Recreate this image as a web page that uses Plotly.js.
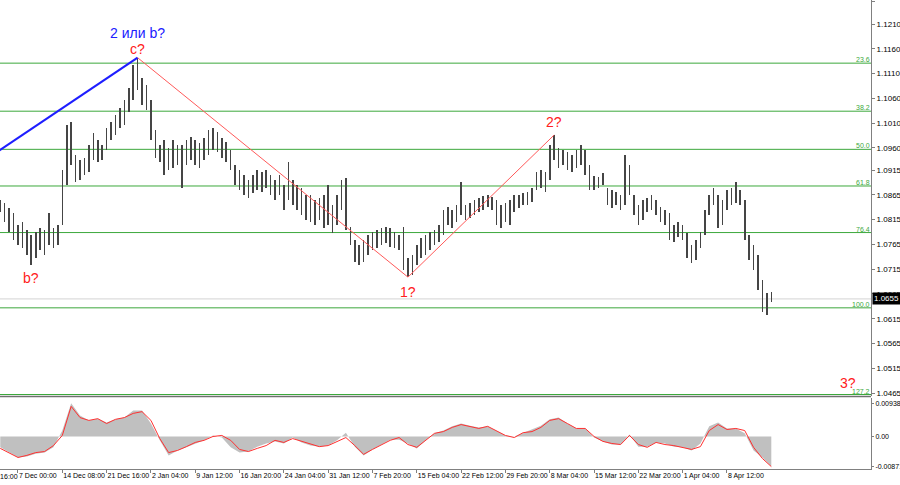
<!DOCTYPE html>
<html>
<head>
<meta charset="utf-8">
<script src="https://cdn.plot.ly/plotly-3.0.1.min.js"></script>
<style>
html,body{margin:0;padding:0;background:#fff;}
#chart{width:900px;height:485px;}
</style>
</head>
<body>
<div id="chart"></div>
<script>
// ---- Data (EURUSD-style H4 bars, each drawn bar ≈ 3 source bars) ----
const barHigh = [1.0855,1.0849,1.0839,1.0828,1.0804,1.0810,1.0794,1.0784,1.0790,1.0798,
1.0794,1.0828,1.0798,1.0804,1.0915,1.1006,1.1012,1.0946,1.0936,1.0940,
1.0966,1.0990,1.0976,1.0966,1.1000,1.1012,1.1027,1.1041,1.1057,1.1081,
1.1128,1.1142,1.1101,1.1087,1.1057,1.0996,1.0966,1.0976,1.0960,1.0976,
1.0966,1.0966,1.0976,1.0982,1.0976,1.0970,1.0980,1.0996,1.1000,1.0992,
1.0980,1.0972,1.0956,1.0926,1.0915,1.0905,1.0895,1.0905,1.0915,1.0911,
1.0915,1.0905,1.0895,1.0905,1.0885,1.0932,1.0895,1.0885,1.0879,1.0865,
1.0865,1.0855,1.0859,1.0865,1.0885,1.0845,1.0865,1.0895,1.0899,1.0800,
1.0774,1.0764,1.0774,1.0784,1.0790,1.0794,1.0798,1.0800,1.0798,1.0790,
1.0784,1.0800,1.0738,1.0744,1.0764,1.0778,1.0784,1.0790,1.0794,1.0804,
1.0835,1.0841,1.0835,1.0845,1.0891,1.0845,1.0849,1.0855,1.0859,1.0863,
1.0865,1.0861,1.0855,1.0845,1.0849,1.0855,1.0865,1.0865,1.0869,1.0871,
1.0879,1.0911,1.0915,1.0911,1.0966,1.0986,1.0960,1.0956,1.0952,1.0946,
1.0956,1.0966,1.0956,1.0926,1.0903,1.0901,1.0909,1.0879,1.0875,1.0871,
1.0865,1.0946,1.0926,1.0865,1.0845,1.0855,1.0859,1.0865,1.0855,1.0841,
1.0835,1.0829,1.0804,1.0811,1.0804,1.0788,1.0764,1.0774,1.0790,1.0835,
1.0865,1.0879,1.0865,1.0855,1.0875,1.0879,1.0891,1.0875,1.0855,1.0784,
1.0764,1.0744,1.0693,1.0667,1.0669];
const barLow = [1.0830,1.0810,1.0790,1.0774,1.0764,1.0758,1.0744,1.0724,1.0738,1.0754,
1.0744,1.0764,1.0758,1.0764,1.0804,1.0885,1.0925,1.0891,1.0895,1.0905,
1.0911,1.0936,1.0932,1.0936,1.0956,1.0976,1.0986,1.1000,1.1006,1.1033,
1.1057,1.1077,1.1047,1.1037,1.0976,1.0940,1.0932,1.0905,1.0915,1.0920,
1.0926,1.0879,1.0926,1.0936,1.0926,1.0920,1.0936,1.0946,1.0956,1.0952,
1.0940,1.0932,1.0915,1.0885,1.0875,1.0865,1.0859,1.0869,1.0875,1.0871,
1.0879,1.0865,1.0855,1.0865,1.0835,1.0855,1.0845,1.0835,1.0825,1.0815,
1.0811,1.0804,1.0815,1.0798,1.0804,1.0788,1.0804,1.0835,1.0794,1.0764,
1.0730,1.0724,1.0730,1.0744,1.0754,1.0758,1.0764,1.0768,1.0760,1.0758,
1.0754,1.0714,1.0699,1.0704,1.0724,1.0738,1.0744,1.0754,1.0764,1.0770,
1.0784,1.0804,1.0798,1.0811,1.0825,1.0815,1.0819,1.0825,1.0831,1.0835,
1.0841,1.0835,1.0804,1.0798,1.0811,1.0804,1.0831,1.0839,1.0845,1.0845,
1.0851,1.0875,1.0879,1.0871,1.0895,1.0936,1.0920,1.0926,1.0915,1.0911,
1.0920,1.0926,1.0905,1.0875,1.0875,1.0879,1.0885,1.0845,1.0839,1.0845,
1.0835,1.0845,1.0865,1.0825,1.0804,1.0815,1.0831,1.0835,1.0825,1.0811,
1.0804,1.0774,1.0770,1.0780,1.0774,1.0738,1.0728,1.0734,1.0758,1.0784,
1.0825,1.0845,1.0798,1.0804,1.0835,1.0845,1.0849,1.0845,1.0774,1.0734,
1.0714,1.0673,1.0629,1.0623,1.0649];

// Oscillator (MACD-type): histogram and signal, one value every 2 drawn bars
const oscHist = [-0.0031,-0.0046,-0.0060,-0.0057,-0.0049,-0.0046,-0.0031,0.0017,0.0095,0.0060,
0.0046,0.0051,0.0040,0.0049,0.0054,0.0074,0.0074,0.0037,-0.0011,-0.0054,
-0.0040,-0.0031,-0.0020,-0.0011,0.0003,-0.0003,-0.0031,-0.0046,-0.0043,-0.0029,
-0.0020,-0.0014,-0.0020,-0.0003,-0.0017,-0.0026,-0.0029,-0.0026,-0.0011,0.0011,
-0.0029,-0.0054,-0.0037,-0.0023,-0.0009,-0.0009,-0.0020,-0.0034,-0.0011,0.0009,
0.0017,0.0029,0.0037,0.0031,0.0026,0.0029,0.0017,0.0003,0.0000,0.0011,
0.0020,0.0031,0.0049,0.0054,0.0037,0.0023,0.0023,-0.0003,-0.0014,-0.0023,
-0.0023,0.0006,-0.0029,-0.0029,-0.0017,-0.0020,-0.0029,-0.0031,-0.0040,-0.0020,
0.0029,0.0040,0.0023,0.0023,0.0009,-0.0040,-0.0060,-0.0086];
const oscSignal = [-0.0034,-0.0046,-0.0060,-0.0054,-0.0046,-0.0043,-0.0026,0.0003,0.0086,0.0054,
0.0046,0.0051,0.0037,0.0049,0.0054,0.0066,0.0071,0.0046,-0.0006,-0.0046,
-0.0040,-0.0029,-0.0017,-0.0011,0.0000,0.0003,-0.0011,-0.0037,-0.0043,-0.0034,
-0.0026,-0.0011,-0.0017,-0.0006,-0.0014,-0.0023,-0.0029,-0.0026,-0.0014,-0.0003,
-0.0026,-0.0051,-0.0037,-0.0023,-0.0011,-0.0003,-0.0023,-0.0031,-0.0011,0.0009,
0.0014,0.0026,0.0034,0.0029,0.0023,0.0029,0.0017,0.0003,-0.0003,0.0011,
0.0014,0.0026,0.0046,0.0051,0.0037,0.0023,0.0023,0.0000,-0.0014,-0.0020,
-0.0023,0.0003,-0.0023,-0.0031,-0.0017,-0.0023,-0.0026,-0.0031,-0.0037,-0.0029,
0.0017,0.0034,0.0020,0.0023,0.0017,-0.0031,-0.0063,-0.0086];

// Time axis labels (one every 10 drawn bars)
const timeLabels = ["30 Nov 16:00","7 Dec 00:00","14 Dec 08:00","21 Dec 16:00","2 Jan 04:00","9 Jan 12:00",
"16 Jan 20:00","24 Jan 04:00","31 Jan 12:00","7 Feb 20:00","15 Feb 04:00","22 Feb 12:00",
"29 Feb 20:00","8 Mar 04:00","15 Mar 12:00","22 Mar 20:00","1 Apr 04:00","8 Apr 12:00"];

// Price axis labels
const priceTicks = [1.1255,1.1210,1.1160,1.1110,1.1060,1.1010,1.0960,1.0915,1.0865,1.0815,1.0765,1.0715,1.0665,1.0615,1.0565,1.0515,1.0465];
const oscTicks = [0.00938,0.00,-0.00871];
const oscTickText = ["0.00938","0.00","-0.00871"];

// Fibonacci levels
const fibLevels = [1.1131,1.1034,1.0957,1.0883,1.0789,1.0637,1.0462];
const fibLabels = ["23.6","38.2","50.0","61.8","76.4","100.0","127.2"];

// Wave markup pivots (bar index, price)
const blueWaveX = [-1,31];
const blueWaveY = [1.0950,1.1142];
const redWaveX = [31,92,125];
const redWaveY = [1.1142,1.0699,1.0986];

const lastPrice = 1.0655;

// ---- Build ----
const barIdx = barHigh.map((_, i) => i);
const oscIdx = oscHist.map((_, k) => k * 2);
const xr = [-0.06, 196.5];
const FONT = "Liberation Sans, Arial, sans-serif";
const GREEN = "#3ca83c";

const traces = [
  {type:"bar", x:barIdx, base:barLow, y:barHigh.map((h,i)=>h-barLow[i]), width:0.36,
   marker:{color:"#454545", line:{width:0}}, xaxis:"x", yaxis:"y", hoverinfo:"skip"},
  {type:"scatter", mode:"lines", x:blueWaveX, y:blueWaveY, line:{color:"#1e1eff", width:2.2},
   xaxis:"x", yaxis:"y", hoverinfo:"skip"},
  {type:"scatter", mode:"lines", x:redWaveX, y:redWaveY, line:{color:"#ff5a5a", width:1},
   xaxis:"x", yaxis:"y", hoverinfo:"skip"},
  {type:"scatter", mode:"lines", x:oscIdx, y:oscHist, fill:"tozeroy", fillcolor:"#c0c0c0",
   line:{width:0, color:"#c0c0c0"}, xaxis:"x", yaxis:"y2", hoverinfo:"skip"},
  {type:"scatter", mode:"lines", x:oscIdx, y:oscSignal, line:{color:"#ff3030", width:1},
   xaxis:"x", yaxis:"y2", hoverinfo:"skip"}
];

const shapes = [];
fibLevels.forEach(v => shapes.push({type:"line", xref:"paper", x0:0, x1:1, yref:"y", y0:v, y1:v,
  line:{color:GREEN, width:1}, layer:"below"}));
shapes.push({type:"line", xref:"paper", x0:0, x1:1, yref:"y", y0:lastPrice, y1:lastPrice,
  line:{color:"#d4d4d4", width:1}, layer:"below"});
shapes.push({type:"line", xref:"paper", x0:0, x1:1, yref:"y domain", y0:0, y1:0,
  line:{color:"#707070", width:1.5}});

const annotations = [];
fibLevels.forEach((v,i) => annotations.push({xref:"paper", x:1, xanchor:"right", yref:"y", y:v,
  yanchor:"bottom", text:fibLabels[i], showarrow:false, font:{family:FONT, size:7, color:GREEN},
  borderpad:0, yshift:-1}));
const waveTxt = (x,y,t,c) => ({xref:"x", yref:"y", x:x, y:y, text:t, showarrow:false,
  font:{family:FONT, size:14, color:c}});
annotations.push(waveTxt(31,1.1192,"2 или b?","#2020ff"));
annotations.push(waveTxt(31,1.1160,"c?","#ff2020"));
annotations.push(waveTxt(7,1.0697,"b?","#ff2020"));
annotations.push(waveTxt(92,1.0669,"1?","#ff2020"));
annotations.push(waveTxt(125,1.1012,"2?","#ff2020"));
annotations.push(waveTxt(191.3,1.0485,"3?","#ff2020"));
annotations.push({xref:"paper", x:1, xanchor:"left", yref:"y", y:lastPrice, yanchor:"middle",
  text:lastPrice.toFixed(4), showarrow:false, bgcolor:"#000", borderpad:1, xshift:1,
  font:{family:FONT, size:8, color:"#fff"}});
// first, partially visible time label (left of the axis range)
const firstTick = -6;
annotations.push({xref:"paper", x:(firstTick - xr[0])/(xr[1]-xr[0]), xanchor:"left",
  yref:"paper", y:0, yanchor:"top", yshift:-2, text:timeLabels[0], showarrow:false,
  font:{family:FONT, size:7, color:"#000"}});

const layout = {
  width:900, height:485,
  margin:{l:0, r:29, t:0, b:16},
  paper_bgcolor:"#fff", plot_bgcolor:"#fff",
  showlegend:false, bargap:0,
  xaxis:{range:xr, anchor:"y2", showgrid:false, zeroline:false, showline:true, linecolor:"#808080",
    tickvals:timeLabels.map((_,k)=>firstTick+10*k), ticktext:timeLabels, tickangle:0,
    ticks:"outside", ticklen:3, tickcolor:"#808080", ticklabelposition:"outside right",
    ticklabelstandoff:0,
    tickfont:{family:FONT, size:7, color:"#000"}},
  yaxis:{domain:[0.1546,1], range:[1.0458,1.12585], side:"right", anchor:"x",
    showgrid:false, zeroline:false, showline:true, linecolor:"#808080",
    tickvals:priceTicks, ticktext:priceTicks.map(v=>v.toFixed(4)),
    ticks:"outside", ticklen:3, tickcolor:"#808080",
    tickfont:{family:FONT, size:8, color:"#000"}},
  yaxis2:{domain:[0,0.1514], range:[-0.00929,0.0110], side:"right", anchor:"x",
    showgrid:false, zeroline:false, showline:true, linecolor:"#808080",
    tickvals:oscTicks, ticktext:oscTickText,
    ticks:"outside", ticklen:2, tickcolor:"#808080", ticklabelstandoff:0,
    tickfont:{family:FONT, size:7, color:"#000"}},
  shapes:shapes,
  annotations:annotations
};

Plotly.newPlot("chart", traces, layout, {staticPlot:true, displayModeBar:false});
</script>
</body>
</html>
